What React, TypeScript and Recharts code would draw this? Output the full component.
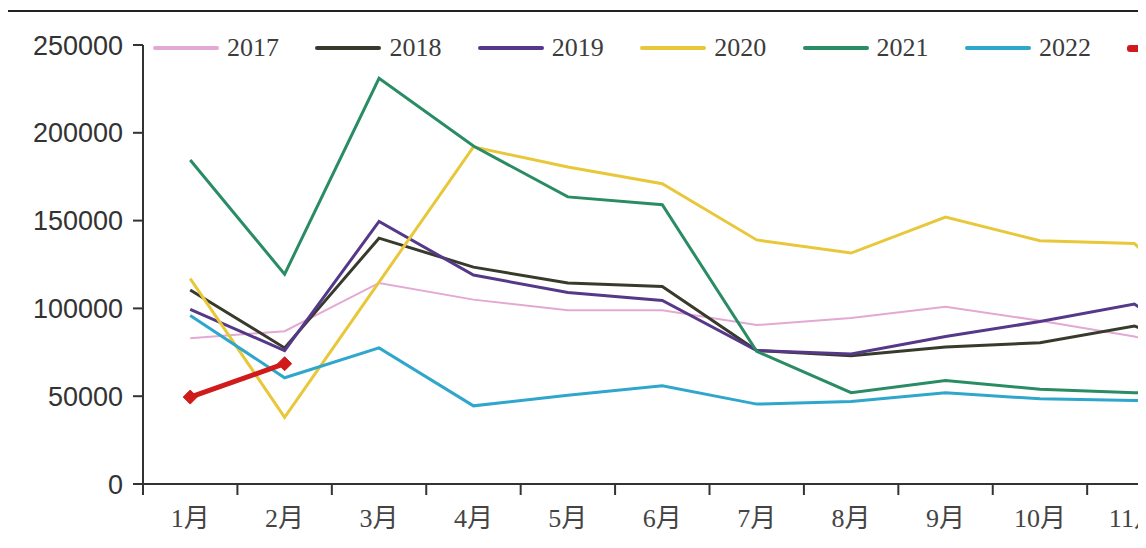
import React from 'react';
import { LineChart, Line, XAxis, YAxis } from 'recharts';

const months = ['1月', '2月', '3月', '4月', '5月', '6月', '7月', '8月', '9月', '10月', '11月', '12月'];
const s2017 = [83000, 87000, 114500, 105000, 99000, 99000, 90500, 94500, 101000, 93000, 84000, 68000];
const s2018 = [110500, 77500, 140000, 123500, 114500, 112500, 76000, 73000, 78000, 80500, 90000, 70000];
const s2019 = [99500, 76000, 149500, 119000, 109000, 104500, 76000, 74000, 84000, 92500, 102500, 65000];
const s2020 = [117000, 38000, 115000, 192000, 180500, 171000, 139000, 131500, 152000, 138500, 137000, 85000];
const s2021 = [184500, 119500, 231000, 192500, 163500, 159000, 75500, 52000, 59000, 54000, 52000, 52000];
const s2022 = [96000, 60500, 77500, 44500, 50500, 56000, 45500, 47000, 52000, 48500, 47500, 48000];
const s2023 = [49500, 68500, null, null, null, null, null, null, null, null, null, null];
const yTicks = [0, 50000, 100000, 150000, 200000, 250000];

const SERIES = [
  { key: 'y2017', name: '2017', values: s2017, color: '#e3a9d2', width: 2 },
  { key: 'y2018', name: '2018', values: s2018, color: '#383a2c', width: 3 },
  { key: 'y2019', name: '2019', values: s2019, color: '#563889', width: 3 },
  { key: 'y2020', name: '2020', values: s2020, color: '#e8c83a', width: 3 },
  { key: 'y2021', name: '2021', values: s2021, color: '#2a8c64', width: 3 },
  { key: 'y2022', name: '2022', values: s2022, color: '#2fa6cc', width: 3 },
  { key: 'y2023', name: '2023', values: s2023, color: '#cf1b1b', width: 5 },
];

const data = months.map((m, i) => {
  const row: any = { month: m };
  SERIES.forEach((s) => {
    row[s.key] = s.values[i];
  });
  return row;
});

const CHART_W = 1300;
const CHART_H = 532;
const Y_W = 135;
const M_RIGHT = 32;
const PLOT_W = CHART_W - Y_W - M_RIGHT;
const BAND = PLOT_W / months.length;

const XTick = (props: any) => {
  const { x, y, payload } = props;
  const lx = x - BAND / 2;
  return (
    <g>
      <line x1={lx} x2={lx} y1={y} y2={y + 11} stroke="#333" strokeWidth={2} />
      <text
        x={x}
        y={y + 43}
        textAnchor="middle"
        fill="#444"
        fontSize={26}
        fontFamily="'Liberation Serif', 'Noto Sans CJK SC', serif"
      >
        {payload.value}
      </text>
    </g>
  );
};

const Diamond = (props: any) => {
  const { cx, cy, value } = props;
  if (value == null || cx == null || cy == null) return <g />;
  const r = 7;
  return (
    <path
      d={`M${cx},${cy - r} L${cx + r},${cy} L${cx},${cy + r} L${cx - r},${cy} Z`}
      fill="#cf1b1b"
      stroke="#cf1b1b"
    />
  );
};

export default function App() {
  return (
    <div
      style={{
        position: 'relative',
        width: 1138,
        height: CHART_H,
        overflow: 'hidden',
        background: '#fff',
      }}
    >
      <div
        style={{
          position: 'absolute',
          top: 2,
          left: 0,
          width: '100%',
          height: 2,
          background: '#222',
        }}
      />
      <div
        style={{
          position: 'absolute',
          top: 23,
          left: 145,
          display: 'flex',
          alignItems: 'center',
          whiteSpace: 'nowrap',
          zIndex: 2,
        }}
      >
        {SERIES.map((s) => (
          <div
            key={s.key}
            style={{ width: 162.4, display: 'flex', alignItems: 'center', flexShrink: 0 }}
          >
            <div
              style={{
                width: 66,
                height: s.key === 'y2023' ? 7 : 4,
                background: s.color,
                marginRight: 8,
                borderRadius: 3,
              }}
            />
            <span
              style={{
                fontFamily: "'Liberation Serif', serif",
                fontSize: 26,
                color: '#3c3c3c',
                lineHeight: '34px',
              }}
            >
              {s.name}
            </span>
          </div>
        ))}
      </div>
      <LineChart
        width={CHART_W}
        height={CHART_H}
        data={data}
        margin={{ top: 37, right: M_RIGHT, bottom: 6, left: 0 }}
      >
        <XAxis
          dataKey="month"
          interval={0}
          padding={{ left: BAND / 2, right: BAND / 2 }}
          tickLine={false}
          tickSize={0}
          tickMargin={0}
          height={50}
          axisLine={{ stroke: '#333', strokeWidth: 2 }}
          tick={<XTick />}
        />
        <YAxis
          width={Y_W}
          domain={[0, 250000]}
          ticks={yTicks}
          interval={0}
          tickSize={10}
          tickMargin={10}
          axisLine={{ stroke: '#333', strokeWidth: 2 }}
          tickLine={{ stroke: '#333', strokeWidth: 2 }}
          tick={{ fill: '#333', fontSize: 27, fontFamily: "'Liberation Sans', Arial, sans-serif" }}
        />
        {SERIES.map((s) => (
          <Line
            key={s.key}
            type="linear"
            dataKey={s.key}
            name={s.name}
            stroke={s.color}
            strokeWidth={s.width}
            dot={s.key === 'y2023' ? <Diamond /> : false}
            activeDot={false}
            connectNulls={false}
            isAnimationActive={false}
          />
        ))}
      </LineChart>
    </div>
  );
}
